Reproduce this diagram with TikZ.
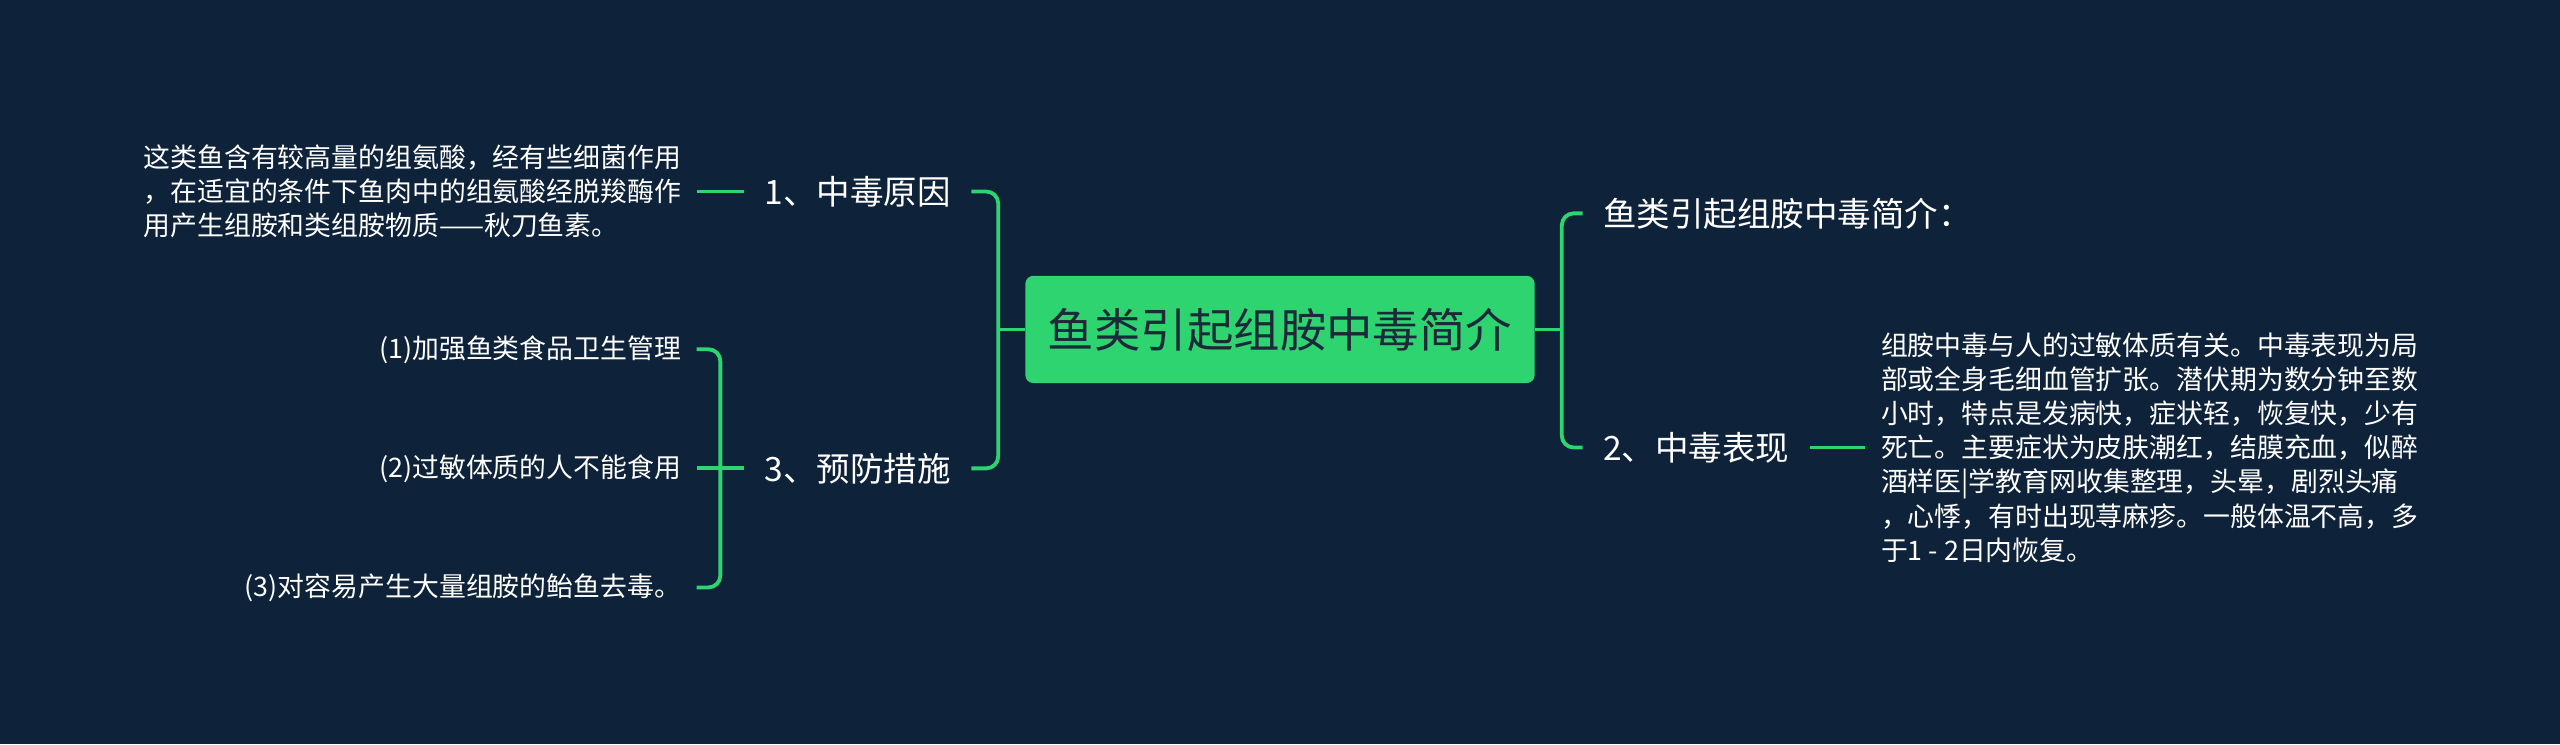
\documentclass[tikz,border=0pt]{standalone}
\usepackage{fontspec}
\setmainfont{Noto Sans CJK SC}
\definecolor{bg}{HTML}{0E2239}
\definecolor{gr}{HTML}{2DD46F}
\definecolor{dk}{HTML}{1B2A3A}
\begin{document}
\begin{tikzpicture}[x=0.01cm,y=-0.01cm,
  conn/.style={draw=gr,line width=1.1pt},
  br/.style={conn,rounded corners=0.12cm},
  topic/.style={text=white,font=\fontsize{9.6}{11}\selectfont,inner xsep=0.2cm,inner ysep=0.05cm},
  leaf/.style={text=white,font=\fontsize{7.7}{9.8}\selectfont,inner xsep=0.15cm,inner ysep=0.03cm,align=left}]
\fill[bg] (-10,-10) rectangle (2570,740);
\useasboundingbox (0,0) rectangle (2560,729);
\node[fill=gr,rounded corners=0.08cm,minimum width=5.13cm,minimum height=1.08cm,text=dk,font=\fontsize{13.3}{15}\selectfont] (c) at (1280,322) {鱼类引起组胺中毒简介};
\node[topic,anchor=west] (n1) at (740,183) {1、中毒原因};
\node[topic,anchor=west] (n3) at (740,462) {3、预防措施};
\node[topic,anchor=west] (n0) at (1585,205) {鱼类引起组胺中毒简介：};
\node[topic,anchor=west] (n2) at (1585,441) {2、中毒表现};
\node[leaf,anchor=east] (l1) at (692,183) {这类鱼含有较高量的组氨酸，经有些细菌作用\\，在适宜的条件下鱼肉中的组氨酸经脱羧酶作\\用产生组胺和类组胺物质——秋刀鱼素。};
\node[leaf,anchor=east] (l31) at (692,342) {(1)加强鱼类食品卫生管理};
\node[leaf,anchor=east] (l32) at (692,462) {(2)过敏体质的人不能食用};
\node[leaf,anchor=east] (l33) at (692,582) {(3)对容易产生大量组胺的鲐鱼去毒。};
\node[leaf,anchor=west] (l2) at (1870,441) {组胺中毒与人的过敏体质有关。中毒表现为局\\部或全身毛细血管扩张。潜伏期为数分钟至数\\小时，特点是发病快，症状轻，恢复快，少有\\死亡。主要症状为皮肤潮红，结膜充血，似醉\\酒样医|学教育网收集整理，头晕，剧烈头痛\\，心悸，有时出现荨麻疹。一般体温不高，多\\于1 - 2日内恢复。};
\draw[conn] (c.west) -- (996,322) coordinate (jL);
\draw[br] (n1.east) -| (jL) |- (n3.east);
\draw[conn] (c.east) -- (1564,322) coordinate (jR);
\draw[br] (n0.west) -| (jR) |- (n2.west);
\draw[conn] (l1.east) -- (n1.west);
\draw[conn] (l32.east) -- (n3.west);
\draw[conn] (716,462) coordinate (jB);
\draw[br] (l31.east) -| (jB) |- (l33.east);
\draw[conn] (n2.east) -- (l2.west);
\end{tikzpicture}
\end{document}
